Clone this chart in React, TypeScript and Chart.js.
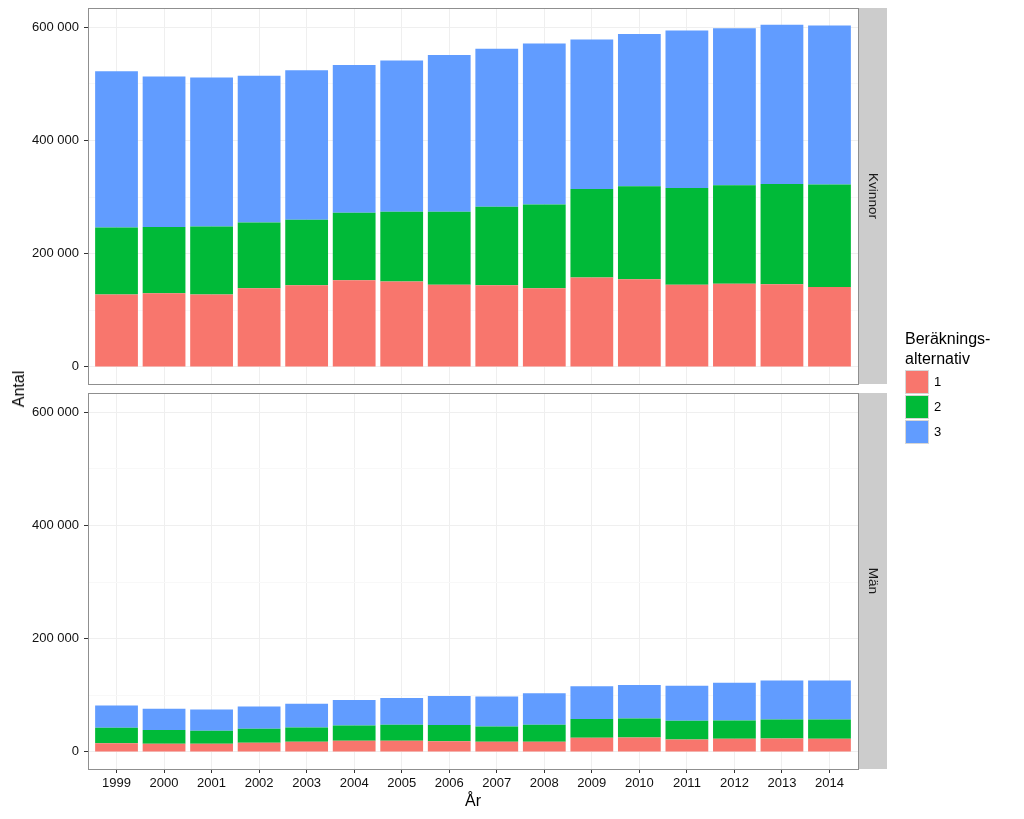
import React, { useEffect, useRef } from 'react';
import { Chart, registerables } from 'chart.js';

Chart.register(...registerables);

const years = ['1999', '2000', '2001', '2002', '2003', '2004', '2005', '2006', '2007', '2008', '2009', '2010', '2011', '2012', '2013', '2014'];

// Kvinnor (women)
const kvinnorAlt1 = [128000, 130000, 128000, 139000, 144000, 153000, 151000, 145000, 144000, 139000, 158000, 155000, 145000, 147000, 146000, 141000];
const kvinnorAlt2 = [118000, 117000, 120000, 116000, 116000, 119000, 123000, 129000, 139000, 148000, 156000, 164000, 171000, 174000, 177000, 181000];
const kvinnorAlt3 = [276000, 266000, 263000, 259000, 264000, 261000, 267000, 277000, 279000, 284000, 264000, 269000, 278000, 277000, 281000, 281000];

// Män (men)
const manAlt1 = [15400, 14200, 14200, 16000, 17800, 19500, 19500, 19000, 17800, 17800, 24900, 25400, 21900, 23000, 23700, 23000];
const manAlt2 = [27200, 24300, 23100, 24800, 25200, 27200, 28500, 28300, 27200, 30200, 33100, 33600, 33100, 32600, 33700, 34400];
const manAlt3 = [39400, 37500, 37700, 39200, 42000, 45000, 47000, 51500, 53000, 55500, 58000, 59300, 62000, 66400, 68600, 68600];

const seriesLabels = ['1', '2', '3'];
const seriesColors = ['#F8766D', '#00BA38', '#619CFF'];
const panelLabels = ['Kvinnor', 'Män'];
const yTickValues = [0, 100000, 200000, 300000, 400000, 500000, 600000];
const yMin = -30200;
const yMax = 633800;

const FONT = '"Liberation Sans", Arial, Helvetica, sans-serif';

const fmt = (v: number) => String(v).replace(/\B(?=(\d{3})+(?!\d))/g, ' ');

function panelPlugin(label: string) {
  return {
    id: 'panelDecor',
    afterDraw(chart: any) {
      const { ctx, chartArea: a } = chart;
      ctx.save();
      // strip
      ctx.fillStyle = '#CCCCCC';
      ctx.fillRect(a.right, a.top, 29, a.bottom - a.top);
      // panel border
      ctx.strokeStyle = '#8F8F8F';
      ctx.lineWidth = 1;
      ctx.strokeRect(Math.round(a.left) + 0.5, Math.round(a.top) + 0.5, Math.round(a.right - a.left), Math.round(a.bottom - a.top));
      // strip text
      ctx.translate(a.right + 14.5, (a.top + a.bottom) / 2);
      ctx.rotate(Math.PI / 2);
      ctx.fillStyle = '#1a1a1a';
      ctx.font = `13.5px ${FONT}`;
      ctx.textAlign = 'center';
      ctx.textBaseline = 'middle';
      ctx.fillText(label, 0, 0);
      ctx.restore();
    },
  };
}

function makeConfig(values: number[][], label: string, showX: boolean, padTop: number, padBottom: number, xHeight: number) {
  return {
    type: 'bar' as const,
    data: {
      datasets: values.map((arr, k) => ({
        label: seriesLabels[k],
        data: arr.map((v, i) => ({ x: i + 1, y: v })),
        backgroundColor: seriesColors[k],
        borderWidth: 0,
        barPercentage: 0.9,
        categoryPercentage: 1,
      })),
    },
    options: {
      responsive: false,
      animation: false as const,
      layout: { padding: { left: 0, right: 166, top: padTop, bottom: padBottom } },
      plugins: { legend: { display: false }, tooltip: { enabled: false }, title: { display: false } },
      scales: {
        x: {
          type: 'linear' as const,
          stacked: true,
          offset: false,
          min: 0.4,
          max: 16.6,
          afterBuildTicks: (scale: any) => {
            scale.ticks = years.map((_, i) => ({ value: i + 1 }));
          },
          afterFit: (scale: any) => {
            scale.height = xHeight;
            scale.paddingLeft = 0;
            scale.paddingRight = 0;
          },
          grid: {
            offset: false,
            color: '#EFEFEF',
            drawTicks: showX,
            tickLength: 4,
            tickColor: '#333333',
          },
          border: { display: false },
          ticks: {
            display: showX,
            autoSkip: false,
            maxRotation: 0,
            padding: 3,
            color: '#111111',
            font: { family: FONT, size: 13 },
            callback: (v: any) => years[Math.round(v) - 1] ?? '',
          },
          title: {
            display: showX,
            text: 'År',
            color: '#000000',
            font: { family: FONT, size: 16 },
            padding: { top: 0, bottom: 8 },
          },
        },
        y: {
          type: 'linear' as const,
          stacked: true,
          min: yMin,
          max: yMax,
          afterBuildTicks: (scale: any) => {
            scale.ticks = yTickValues.map((v) => ({ value: v }));
          },
          afterFit: (scale: any) => {
            scale.width = 88;
            scale.paddingTop = 0;
            scale.paddingBottom = 0;
          },
          grid: {
            color: (ctx: any) => (ctx.tick && ctx.tick.value % 200000 === 0 ? '#EFEFEF' : '#F8F8F8'),
            tickColor: (ctx: any) => (ctx.tick && ctx.tick.value % 200000 === 0 ? '#333333' : 'rgba(0,0,0,0)'),
            tickLength: 4,
          },
          border: { display: false },
          ticks: {
            padding: 5,
            color: '#111111',
            font: { family: FONT, size: 13 },
            callback: (v: any) => (v % 200000 === 0 ? fmt(v) : ''),
          },
        },
      },
    },
    plugins: [panelPlugin(label)],
  };
}

export default function App() {
  const topRef = useRef<HTMLCanvasElement>(null);
  const botRef = useRef<HTMLCanvasElement>(null);

  useEffect(() => {
    const c1 = new Chart(topRef.current as any, makeConfig([kvinnorAlt1, kvinnorAlt2, kvinnorAlt3], panelLabels[0], false, 8, 8, 0) as any);
    const c2 = new Chart(botRef.current as any, makeConfig([manAlt1, manAlt2, manAlt3], panelLabels[1], true, 1, 0, 50) as any);
    return () => {
      c1.destroy();
      c2.destroy();
    };
  }, []);

  const keyTops = [370, 395, 420];

  return (
    <div style={{ position: 'absolute', left: 0, top: 0, width: 1024, height: 819, background: '#ffffff', overflow: 'hidden', fontFamily: FONT }}>
      <canvas ref={topRef} width={1024} height={392} style={{ position: 'absolute', left: 0, top: 0, display: 'block' }} />
      <canvas ref={botRef} width={1024} height={427} style={{ position: 'absolute', left: 0, top: 392, display: 'block' }} />
      <div
        style={{
          position: 'absolute',
          left: 19,
          top: 389,
          transform: 'translate(-50%, -50%) rotate(-90deg)',
          fontSize: 16,
          color: '#000',
          whiteSpace: 'nowrap',
          lineHeight: '20px',
        }}
      >
        Antal
      </div>
      <div style={{ position: 'absolute', left: 905, top: 329, fontSize: 16, lineHeight: '20px', color: '#000' }}>
        Beräknings-
        <br />
        alternativ
      </div>
      {seriesLabels.map((s, k) => (
        <React.Fragment key={s}>
          <div
            style={{
              position: 'absolute',
              left: 905,
              top: keyTops[k],
              width: 24,
              height: 24,
              boxSizing: 'border-box',
              border: '1px solid #D6D6D6',
              background: seriesColors[k],
            }}
          />
          <div style={{ position: 'absolute', left: 934, top: keyTops[k] + 4, fontSize: 13, lineHeight: '16px', color: '#000' }}>{s}</div>
        </React.Fragment>
      ))}
    </div>
  );
}
